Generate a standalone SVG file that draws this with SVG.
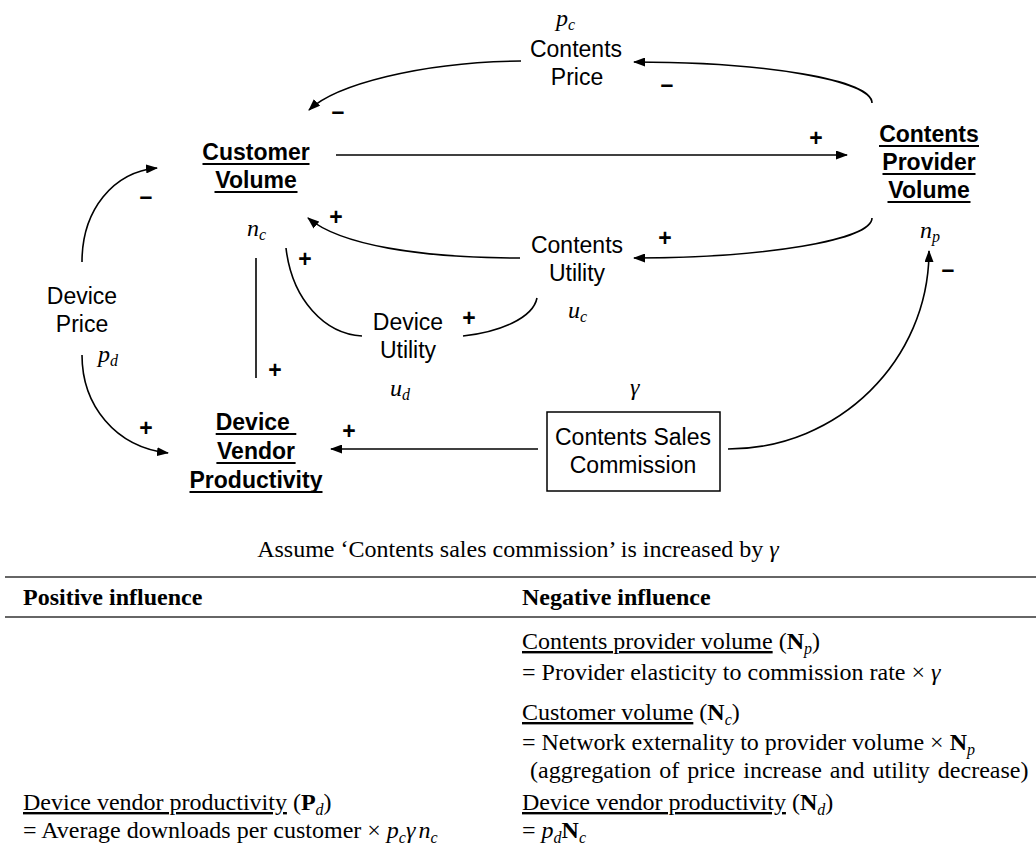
<svg xmlns="http://www.w3.org/2000/svg" width="1036" height="863" viewBox="0 0 1036 863">
  <defs>
    <marker id="arrow" viewBox="0 0 12 9" refX="11" refY="4.5" markerWidth="12" markerHeight="9" markerUnits="userSpaceOnUse" orient="auto">
      <path d="M0,0 L12,4.5 L0,9 Z" fill="#000"/>
    </marker>
    <style>
      .lbl { font-family: "Liberation Sans", Arial, sans-serif; font-size: 23px; fill: #000; text-anchor: middle; }
      .key { font-family: "Liberation Sans", Arial, sans-serif; font-size: 23px; font-weight: bold; fill: #000; text-anchor: middle; }
      .sign { font-family: "Liberation Sans", Arial, sans-serif; font-size: 23px; font-weight: bold; fill: #000; text-anchor: middle; }
      .var { font-family: "Liberation Serif", "Times New Roman", serif; font-size: 24px; font-style: italic; fill: #000; }
      .sub { font-size: 16px; }
      .ul { stroke: #000; stroke-width: 2; }
      .link { fill: none; stroke: #000; stroke-width: 1.6; }
      .tbl { font-family: "Liberation Serif", "Times New Roman", serif; font-size: 24px; fill: #000; }
      .rule { stroke: #333; stroke-width: 1.5; }
    </style>
  </defs>

  <!-- connectors -->
  <g id="connectors">
    <path class="link" d="M336,155 L847,155" marker-end="url(#arrow)"/>
    <path class="link" d="M872,103 C872,80 765,62 634,62" marker-end="url(#arrow)"/>
    <path class="link" d="M521,61 C420,62 335,85 309,110" marker-end="url(#arrow)"/>
    <path class="link" d="M82,262 C82,210 113,172 157,168" marker-end="url(#arrow)"/>
    <path class="link" d="M82,355 C82,405 115,447 168,453" marker-end="url(#arrow)"/>
    <path class="link" d="M872,218 C872,240 765,258 634,258" marker-end="url(#arrow)"/>
    <path class="link" d="M520,258 C420,258 340,245 308,218" marker-end="url(#arrow)"/>
    <path class="link" d="M286,248 C292,300 325,334 362,336"/>
    <path class="link" d="M463,336 C500,332 533,318 537,298"/>
    <path class="link" d="M256,258 L256,378"/>
    <path class="link" d="M538,449 L331,449" marker-end="url(#arrow)"/>
    <path class="link" d="M728,449 C839,449 929,360 929,251" marker-end="url(#arrow)"/>
  </g>

  <!-- polarity signs -->
  <g id="signs">
    <text class="sign" x="816" y="146">+</text>
    <text class="sign" x="336" y="225">+</text>
    <text class="sign" x="305" y="267">+</text>
    <text class="sign" x="665" y="246">+</text>
    <text class="sign" x="469" y="326">+</text>
    <text class="sign" x="275" y="378">+</text>
    <text class="sign" x="146" y="436">+</text>
    <text class="sign" x="349" y="439">+</text>
    <text class="sign" x="667" y="92">–</text>
    <text class="sign" x="338" y="119">–</text>
    <text class="sign" x="146" y="204">–</text>
    <text class="sign" x="948" y="277">–</text>
  </g>

  <g id="contents-price">
    <text class="var" x="556" y="26">p<tspan class="sub" dy="4">c</tspan></text>
    <text class="lbl" x="576" y="57">Contents</text>
    <text class="lbl" x="577" y="85">Price</text>
  </g>

  <g id="customer-volume">
    <text class="key" x="256" y="160">Customer</text>
    <line class="ul" x1="202.5" y1="164" x2="309.5" y2="164"/>
    <text class="key" x="256" y="188">Volume</text>
    <line class="ul" x1="214.5" y1="192" x2="297.5" y2="192"/>
    <text class="var" x="247" y="236">n<tspan class="sub" dy="4">c</tspan></text>
  </g>

  <g id="provider-volume">
    <text class="key" x="929" y="142">Contents</text>
    <line class="ul" x1="879" y1="146" x2="979" y2="146"/>
    <text class="key" x="929" y="170">Provider</text>
    <line class="ul" x1="882.5" y1="174" x2="975.5" y2="174"/>
    <text class="key" x="929" y="198">Volume</text>
    <line class="ul" x1="887.5" y1="202" x2="970.5" y2="202"/>
    <text class="var" x="920" y="238">n<tspan class="sub" dy="4">p</tspan></text>
  </g>

  <g id="contents-utility">
    <text class="lbl" x="577" y="253">Contents</text>
    <text class="lbl" x="577" y="281">Utility</text>
    <text class="var" x="568" y="318">u<tspan class="sub" dy="4">c</tspan></text>
  </g>

  <g id="device-price">
    <text class="lbl" x="82" y="304">Device</text>
    <text class="lbl" x="82" y="332">Price</text>
    <text class="var" x="98" y="362">p<tspan class="sub" dy="4">d</tspan></text>
  </g>

  <g id="device-utility">
    <text class="lbl" x="408" y="330">Device</text>
    <text class="lbl" x="408" y="358">Utility</text>
    <text class="var" x="390" y="396">u<tspan class="sub" dy="4">d</tspan></text>
  </g>

  <g id="device-vendor">
    <text class="key" x="256" y="430" xml:space="preserve">Device </text>
    <line class="ul" x1="215.7" y1="434" x2="296.3" y2="434"/>
    <text class="key" x="256" y="459">Vendor</text>
    <line class="ul" x1="216.4" y1="463" x2="295.6" y2="463"/>
    <text class="key" x="256" y="488">Productivity</text>
    <line class="ul" x1="189.5" y1="492" x2="322.5" y2="492"/>
  </g>

  <g id="commission">
    <text class="var" x="630" y="395">γ</text>
    <rect x="547" y="412" width="173" height="79" fill="#fff" stroke="#000" stroke-width="1.5"/>
    <text class="lbl" x="633" y="445">Contents Sales</text>
    <text class="lbl" x="633" y="473">Commission</text>
  </g>

  <!-- influence table -->
  <g id="influence-table">
    <text class="tbl" x="518" y="557" text-anchor="middle">Assume ‘Contents sales commission’ is increased by <tspan font-style="italic">γ</tspan></text>
    <line class="rule" x1="5" y1="577" x2="1036" y2="577"/>
    <text class="tbl" x="23" y="605" font-weight="bold">Positive influence</text>
    <text class="tbl" x="522" y="605" font-weight="bold">Negative influence</text>
    <line class="rule" x1="5" y1="617" x2="1036" y2="617"/>

    <text class="tbl" x="522" y="649"><tspan text-decoration="underline">Contents provider volume</tspan> (<tspan font-weight="bold">N</tspan><tspan class="sub" font-style="italic" dy="5">p</tspan><tspan dy="-5">)</tspan></text>
    <text class="tbl" x="522" y="680">= Provider elasticity to commission rate × <tspan font-style="italic">γ</tspan></text>

    <text class="tbl" x="522" y="720"><tspan text-decoration="underline">Customer volume</tspan> (<tspan font-weight="bold">N</tspan><tspan class="sub" font-style="italic" dy="5">c</tspan><tspan dy="-5">)</tspan></text>
    <text class="tbl" x="522" y="750">= Network externality to provider volume × <tspan font-weight="bold">N</tspan><tspan class="sub" font-style="italic" dy="5">p</tspan></text>
    <text class="tbl" x="530" y="778" word-spacing="2">(aggregation of price increase and utility decrease)</text>

    <text class="tbl" x="23" y="810"><tspan text-decoration="underline">Device vendor productivity</tspan> (<tspan font-weight="bold">P</tspan><tspan class="sub" font-style="italic" dy="5">d</tspan><tspan dy="-5">)</tspan></text>
    <text class="tbl" x="23" y="838">= Average downloads per customer × <tspan font-style="italic">p</tspan><tspan class="sub" font-style="italic" dy="5">c</tspan><tspan font-style="italic" dy="-5">γ</tspan><tspan font-style="italic" dx="3">n</tspan><tspan class="sub" font-style="italic" dy="5">c</tspan></text>

    <text class="tbl" x="522" y="810"><tspan text-decoration="underline">Device vendor productivity</tspan> (<tspan font-weight="bold">N</tspan><tspan class="sub" font-style="italic" dy="5">d</tspan><tspan dy="-5">)</tspan></text>
    <text class="tbl" x="522" y="838">= <tspan font-style="italic">p</tspan><tspan class="sub" font-style="italic" dy="5">d</tspan><tspan font-weight="bold" dy="-5">N</tspan><tspan class="sub" font-style="italic" dy="5">c</tspan></text>
  </g>
</svg>
